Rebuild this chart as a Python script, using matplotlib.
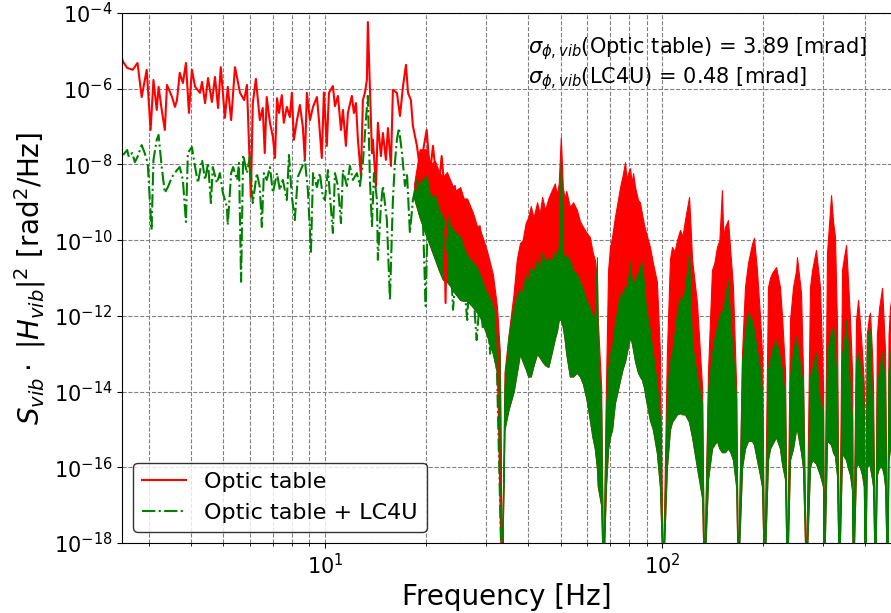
import numpy as np
import matplotlib
matplotlib.use("Agg")
import matplotlib.pyplot as plt
from matplotlib.ticker import NullLocator

# Low-frequency part of the spectra: (frequency [Hz], log10 of PSD)
red_trace = [
    (2.50, -5.20), (2.52, -5.29), (2.59, -5.45), (2.69, -5.50), (2.78, -5.32),
    (2.86, -6.22), (2.96, -5.50), (3.04, -7.09), (3.10, -5.77), (3.17, -6.56),
    (3.21, -5.95), (3.28, -6.56), (3.35, -7.09), (3.40, -5.90), (3.52, -6.22),
    (3.59, -6.48), (3.64, -6.30), (3.71, -5.58), (3.79, -5.85), (3.87, -5.32),
    (3.95, -6.64), (4.03, -5.50), (4.12, -5.95), (4.26, -6.11), (4.32, -5.82),
    (4.41, -6.38), (4.50, -5.72), (4.62, -6.35), (4.72, -5.69), (4.82, -6.51),
    (4.91, -5.43), (5.05, -6.77), (5.15, -5.95), (5.27, -6.83), (5.41, -5.43),
    (5.60, -6.11), (5.76, -6.30), (5.87, -5.90), (6.03, -8.86), (6.11, -6.38),
    (6.24, -5.74), (6.41, -6.83), (6.54, -6.51), (6.63, -7.70), (6.72, -6.22),
    (6.87, -6.90), (7.01, -7.28), (7.11, -7.83), (7.21, -6.25), (7.31, -6.64),
    (7.45, -6.17), (7.55, -6.90), (7.71, -6.48), (7.87, -6.75), (7.98, -6.11),
    (8.09, -7.35), (8.26, -6.83), (8.43, -6.43), (8.60, -7.01), (8.72, -7.88),
    (8.84, -6.11), (9.03, -6.83), (9.22, -6.48), (9.47, -6.22), (9.60, -6.83),
    (9.79, -7.83), (9.93, -6.10), (10.13, -7.51), (10.28, -6.11), (10.56, -5.93),
    (10.71, -6.46), (10.93, -6.19), (11.16, -7.09), (11.31, -6.56), (11.54, -7.51),
    (11.70, -6.64), (12.02, -6.19), (12.19, -6.64), (12.36, -6.38), (12.53, -7.35),
    (12.79, -8.30), (12.96, -6.30), (13.14, -6.11), (13.32, -5.77), (13.41, -4.24),
    (13.60, -6.03), (13.79, -7.70), (13.88, -7.35), (14.17, -8.57), (14.36, -6.90),
    (14.66, -7.78), (14.86, -7.17), (15.17, -7.88), (15.38, -7.04), (15.70, -8.04),
    (15.91, -6.03), (16.35, -6.11), (16.70, -6.72), (17.05, -5.93), (17.40, -5.37),
    (17.64, -6.11), (17.99, -6.30), (18.24, -6.98), (18.75, -7.51), (19.10, -8.04),
    (19.50, -7.70), (20.04, -7.09), (20.50, -8.23), (20.92, -7.51), (21.21, -8.04),
    (21.65, -8.83), (22.2, -7.78), (22.5, -8.41), (22.8, -11.66), (23.1, -8.41),
    (23.8, -8.94), (24.3, -8.57), (24.7, -9.47), (25.2, -9.28), (25.7, -8.94),
    (26.4, -9.63), (26.9, -9.28), (27.5, -10.15), (28.2, -9.81), (28.8, -9.63),
    (29.4, -10.68), (30.2, -10.34), (30.9, -11.40), (31.5, -11.58), (32.4, -11.92),
    (33.5, -19.0),
]

green_trace = [
    (2.52, -7.75), (2.59, -7.62), (2.62, -7.80), (2.68, -7.70), (2.73, -7.94),
    (2.78, -7.80), (2.86, -7.49), (2.92, -7.70), (2.98, -7.96), (3.06, -9.73),
    (3.10, -7.88), (3.17, -7.35), (3.21, -7.22), (3.28, -8.07), (3.35, -8.75),
    (3.42, -8.60), (3.52, -8.33), (3.64, -8.15), (3.71, -8.07), (3.79, -8.41),
    (3.87, -9.52), (3.92, -7.70), (4.03, -7.54), (4.12, -8.07), (4.20, -8.49),
    (4.32, -7.88), (4.41, -8.41), (4.50, -7.96), (4.59, -9.02), (4.65, -8.07),
    (4.78, -8.49), (4.88, -8.23), (4.98, -8.75), (5.12, -9.12), (5.15, -9.60),
    (5.27, -8.23), (5.34, -8.07), (5.49, -8.41), (5.56, -7.96), (5.64, -11.10),
    (5.72, -7.75), (5.87, -8.23), (5.99, -7.80), (6.11, -9.02), (6.28, -8.23),
    (6.41, -8.60), (6.50, -9.65), (6.59, -8.23), (6.72, -8.41), (6.87, -8.07),
    (7.01, -8.75), (7.21, -8.23), (7.35, -8.68), (7.50, -8.41), (7.71, -8.94),
    (7.82, -7.75), (7.98, -8.86), (8.14, -9.47), (8.31, -8.33), (8.55, -8.07),
    (8.72, -7.88), (8.90, -8.68), (9.09, -10.31), (9.22, -8.23), (9.47, -8.60),
    (9.66, -8.23), (9.86, -8.86), (10.00, -8.94), (10.21, -8.15), (10.56, -9.81),
    (10.71, -8.23), (10.93, -8.57), (11.16, -9.55), (11.31, -8.15), (11.62, -8.57),
    (11.86, -8.04), (12.11, -8.41), (12.44, -8.23), (12.70, -8.57), (12.96, -7.96),
    (13.23, -6.83), (13.41, -6.19), (13.60, -8.41), (13.79, -9.63), (13.98, -8.23),
    (14.27, -8.94), (14.36, -10.52), (14.66, -9.10), (14.86, -8.57), (15.27, -9.47),
    (15.59, -11.58), (15.91, -8.94), (16.13, -7.96), (16.35, -7.35), (16.58, -7.04),
    (16.93, -7.70), (17.28, -8.57), (17.52, -8.23), (17.87, -9.81), (18.24, -8.94),
    (18.75, -8.41), (19.10, -9.02), (19.50, -9.28), (19.90, -11.74), (20.17, -9.47),
    (20.78, -9.10), (21.21, -9.73), (21.65, -9.47), (22.2, -10.15), (22.5, -9.47),
    (22.97, -10.34), (23.5, -10.08), (23.99, -11.84), (24.65, -10.52), (25.2, -10.15),
    (25.72, -10.87), (26.43, -12.11), (26.9, -10.68), (27.46, -11.21), (28.2, -12.64),
    (28.8, -11.58), (29.4, -12.30), (30.2, -11.60), (30.9, -13.00), (31.5, -11.80),
    (32.4, -13.50), (33.5, -19.0),
]

# Above ~19 Hz the traces are so dense they read as filled lobes.
# band_freq [Hz]; upper edge of red / green and common lower edge (log10 PSD).
# One row per lobe, -19 marks the deep notches between lobes.
band_freq = [
    18.4, 19.1, 20.0, 20.6, 21.2, 21.8, 22.4, 23.0, 23.5, 24.3, 25.2, 25.8, 26.4, 27.5, 28.2, 28.8, 30.2, 31.5, 32.4, 33.0, 33.5,
    34.1, 35.0, 36.3, 37.1, 37.9, 38.6, 39.4, 40.1, 40.8, 41.6, 42.6, 43.4, 44.1, 45.0, 46.0, 47.0, 48.1, 48.8, 49.4, 50.1, 50.8, 51.4, 52.0, 53.3, 54.5, 55.9, 57.1, 58.3, 59.7, 61.1, 62.2, 63.2, 64.1, 64.5, 66.0, 66.9,
    68.2, 69.2, 70.1, 71.1, 72.5, 73.8, 75.1, 76.4, 77.7, 78.5, 79.3, 80.4, 81.3, 82.1, 83.2, 84.9, 86.0, 87.2, 88.5, 89.6, 92.1, 94.0, 96.6, 98.6, 100.6,
    103.4, 104.5, 105.6, 107.1, 109.0, 110.8, 113.1, 115.0, 117.0, 120.3, 121.5, 122.8, 127.0, 131.5, 133.3,
    137.0, 140.7, 143.0, 145.6, 148.0, 150.6, 152.0, 153.8, 157.0, 159.5, 162.4, 166.0, 168.0,
    172.8, 176.3, 180.0, 184.9, 187.5, 191.3, 195.3, 198.0, 201.1,
    206.3, 209.2, 212.1, 218.0, 223.9, 227.0, 231.7, 235.0,
    239.8, 244.8, 249.9, 251.5, 258.5, 262.0, 267.5,
    274.9, 278.7, 286.3, 294.3, 300.4, 302.4,
    308.7, 317.4, 321.7, 326.0, 330.5, 335.0,
    342.2, 346.0, 351.7, 356.0, 361.4, 366.4, 368.9,
    376.5, 381.7, 386.8, 392.3, 397.0, 400.3,
    405.0, 411.4, 414.2, 419.9, 422.8, 428.6,
    434.0, 440.6, 449.7, 455.0, 459.1, 465.5,
    470.0, 474.9, 480.0,
]
red_band_hi = [
    -8.5, -7.6, -7.6, -8.0, -7.9, -8.2, -8.33, -8.2, -8.4, -8.7, -8.6, -8.9, -8.9, -9.28, -9.6, -9.7, -10.26, -10.9, -11.77, -12.9, -19,
    -13.5, -12.56, -11.4, -10.5, -10.08, -10.0, -9.55, -9.4, -9.1, -9.4, -9.0, -9.3, -8.86, -9.2, -8.9, -8.7, -8.5, -8.8, -8.49, -7.28, -8.6, -8.9, -8.7, -9.12, -9.0, -9.2, -9.5, -9.65, -9.8, -9.92, -10.3, -10.52, -11.0, -12.11, -13.88, -19,
    -13.88, -10.79, -10.2, -9.92, -9.39, -9.0, -8.6, -8.3, -7.94, -8.4, -8.23, -8.1, -8.5, -8.23, -8.6, -8.94, -9.0, -9.3, -9.6, -9.8, -10.18, -10.6, -11.1, -12.98, -19,
    -13.0, -11.77, -10.5, -10.18, -10.3, -10.0, -9.73, -9.9, -9.47, -8.86, -9.6, -10.5, -11.66, -13.88, -19,
    -13.43, -10.79, -10.6, -10.18, -10.0, -8.68, -9.9, -9.65, -9.47, -10.3, -11.24, -13.88, -19,
    -12.98, -11.24, -10.6, -10.1, -9.94, -10.79, -12.0, -12.98, -19,
    -11.24, -11.0, -10.87, -10.71, -11.24, -12.0, -13.43, -19,
    -12.11, -11.24, -10.8, -10.45, -11.4, -13.43, -19,
    -11.24, -10.8, -10.26, -11.24, -13.88, -19,
    -10.34, -8.81, -9.5, -9.92, -12.2, -19,
    -10.79, -10.5, -10.13, -11.0, -12.11, -13.5, -19,
    -12.11, -11.58, -12.2, -12.98, -13.8, -19,
    -12.5, -12.0, -11.92, -13.0, -13.88, -19,
    -12.5, -11.8, -11.26, -12.2, -12.98, -19,
    -12.5, -11.77, -11.5,
]
green_band_hi = [
    -8.8, -8.5, -8.3, -8.9, -8.8, -9.2, -9.39, -9.3, -9.6, -9.8, -9.9, -10.2, -10.4, -10.6, -10.7, -10.9, -11.4, -11.6, -12.4, -13.0, -19,
    -13.9, -12.6, -11.8, -11.5, -11.3, -11.4, -10.9, -11.1, -10.7, -10.9, -10.5, -10.8, -10.34, -10.6, -10.45, -10.6, -10.3, -10.5, -10.18, -7.88, -10.3, -10.6, -10.4, -10.55, -10.8, -10.9, -11.1, -11.3, -11.6, -11.8, -12.0, -12.0, -10.45, -13.0, -14.5, -19,
    -14.5, -13.43, -13.0, -12.8, -12.2, -11.8, -11.4, -11.5, -11.2, -11.3, -11.05, -10.6, -11.0, -11.24, -11.05, -10.9, -10.7, -10.6, -11.2, -11.77, -12.4, -12.98, -13.8, -14.75, -19,
    -14.3, -13.6, -13.2, -12.98, -12.45, -11.92, -11.5, -11.6, -11.3, -10.34, -11.6, -12.7, -13.6, -14.3, -19,
    -14.0, -13.0, -12.6, -12.3, -12.0, -11.84, -11.9, -11.5, -11.05, -12.2, -12.98, -14.2, -19,
    -13.2, -12.5, -11.92, -12.11, -12.4, -12.9, -13.43, -14.0, -19,
    -13.4, -13.16, -12.9, -12.64, -13.1, -13.43, -14.2, -19,
    -13.6, -12.98, -12.56, -12.7, -13.5, -13.88, -19,
    -13.6, -13.43, -12.98, -14.3, -14.5, -19,
    -12.98, -12.4, -12.29, -13.0, -13.88, -19,
    -13.0, -12.82, -12.11, -12.8, -14.0, -14.75, -19,
    -13.2, -12.98, -13.3, -13.69, -14.5, -19,
    -13.0, -12.29, -12.5, -14.5, -14.8, -19,
    -14.0, -13.43, -12.98, -13.5, -14.2, -19,
    -13.5, -12.98, -12.8,
]
band_lo = [
    -8.9, -9.4, -9.9, -10.2, -10.5, -10.8, -11.05, -11.1, -11.2, -11.4, -11.58, -11.6, -11.6, -11.77, -11.9, -12.0, -12.5, -13.0, -13.5, -15.0, -19,
    -15.0, -14.5, -14.0, -13.5, -13.0, -13.2, -13.4, -13.6, -13.6, -13.3, -13.0, -13.1, -13.2, -13.3, -13.35, -13.0, -12.6, -12.4, -12.1, -12.1, -12.3, -12.6, -13.0, -13.6, -13.6, -13.5, -13.6, -13.8, -14.2, -14.75, -15.2, -15.5, -16.0, -16.5, -17.0, -19,
    -16.5, -15.5, -15.2, -15.0, -14.3, -14.0, -13.69, -13.4, -13.2, -13.0, -12.8, -12.56, -12.7, -12.9, -13.2, -13.5, -13.6, -13.69, -13.9, -14.2, -14.75, -15.0, -15.62, -16.5, -19,
    -16.0, -15.5, -15.0, -14.8, -14.7, -14.6, -14.57, -14.6, -14.6, -14.8, -15.0, -15.2, -16.0, -16.8, -19,
    -16.3, -15.5, -15.4, -15.3, -15.5, -15.6, -15.6, -15.6, -15.5, -15.6, -15.8, -16.5, -19,
    -16.0, -15.5, -15.3, -15.3, -15.4, -15.8, -16.2, -16.5, -19,
    -15.8, -15.5, -15.4, -15.2, -15.5, -15.9, -16.3, -19,
    -15.8, -15.5, -15.0, -15.0, -15.6, -16.0, -19,
    -16.0, -15.8, -15.9, -16.2, -16.5, -19,
    -15.3, -15.4, -15.6, -15.7, -16.2, -19,
    -15.6, -15.7, -15.8, -16.0, -16.2, -16.6, -19,
    -16.0, -15.9, -16.0, -16.2, -16.5, -19,
    -16.0, -15.9, -16.0, -16.3, -16.5, -19,
    -16.2, -16.0, -16.0, -16.2, -16.5, -19,
    -15.8, -15.5, -15.5,
]

sigma_table = 3.89   # mrad
sigma_lc4u = 0.48    # mrad

red_freq, red_lg = np.array(red_trace).T
green_freq, green_lg = np.array(green_trace).T
band_freq = np.array(band_freq)

fig = plt.figure(figsize=(8.91, 6.13), dpi=100)
ax = fig.add_axes([0.1369, 0.1142, 0.8631, 0.8646])

ax.plot(red_freq, 10**red_lg, color='red', lw=1.5, label='Optic table')
ax.fill_between(band_freq, 10**np.array(band_lo), 10**np.array(red_band_hi),
                color='red', lw=0.8)
ax.plot(green_freq, 10**green_lg, color='green', ls='-.', lw=1.5,
        label='Optic table + LC4U')
ax.fill_between(band_freq, 10**np.array(band_lo), 10**np.array(green_band_hi),
                color='green', lw=0.8)

ax.set_xscale('log')
ax.set_yscale('log')
ax.set_xlim(2.5, 478)
ax.set_ylim(1e-18, 1e-4)
ax.set_yticks([10.0**k for k in range(-18, -3, 2)])
ax.yaxis.set_minor_locator(NullLocator())
ax.set_axisbelow(True)
ax.grid(True, which='both', ls='--', color='gray', lw=0.8)
ax.spines['right'].set_visible(False)
ax.tick_params(labelsize=15)

ax.set_xlabel('Frequency [Hz]', fontsize=20)
ax.set_ylabel(r'$S_{vib} \cdot$ $|H_{vib}|^2$ [rad$^2$/Hz]', fontsize=20)

ax.text(0.528, 0.958,
        r'$\sigma_{\phi, vib}$(Optic table) = %.2f [mrad]' % sigma_table + '\n' +
        r'$\sigma_{\phi, vib}$(LC4U) = %.2f [mrad]' % sigma_lc4u,
        transform=ax.transAxes, fontsize=15, va='top', ha='left')

ax.legend(loc='lower left', fontsize=16, edgecolor='black')

fig.savefig('out.png', dpi=100)
